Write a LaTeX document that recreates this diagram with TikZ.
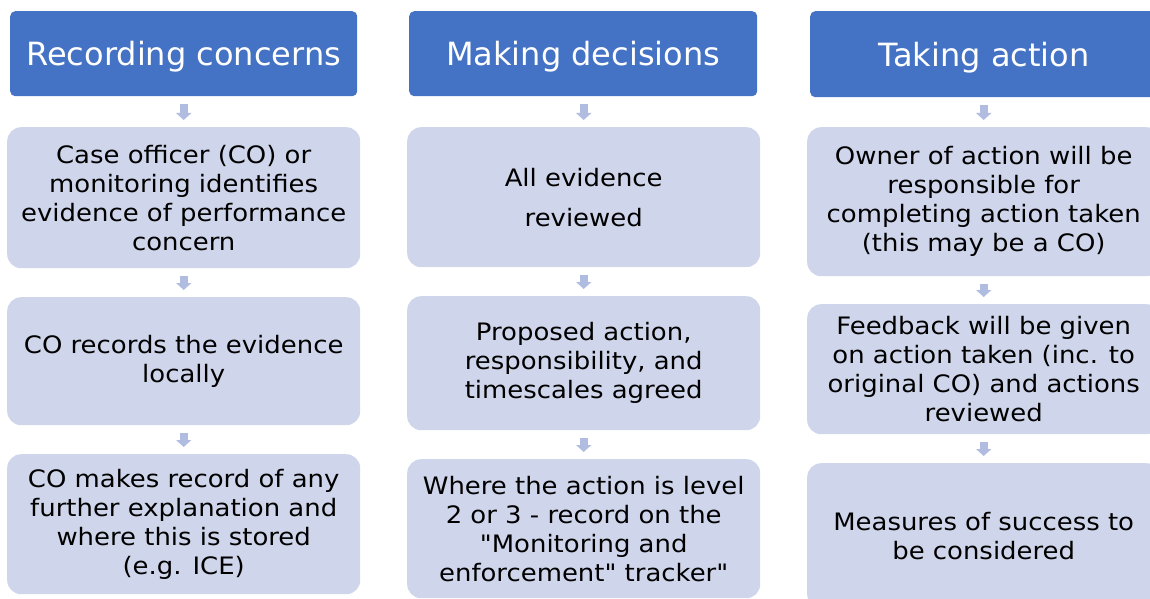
\documentclass[tikz,border=0pt]{standalone}
\usepackage{fontspec}
\setmainfont{DejaVu Sans}
\newfontfamily\bodyfont{DejaVu Sans}[FakeStretch=1.08]
\usetikzlibrary{arrows.meta}
\definecolor{hdrblue}{HTML}{4472C4}
\definecolor{boxfill}{HTML}{CFD5EA}
\definecolor{arrfill}{HTML}{B0BDE0}
\newcommand{\hdrtext}[1]{\raisebox{-12pt}[0pt][0pt]{#1}}
\tikzset{
  hdr/.style={anchor=north west, fill=hdrblue, rounded corners=5pt, text=white,
    font=\fontsize{32}{38}\selectfont, align=center, inner sep=0pt,
    minimum width=347pt, minimum height=85pt},
  stepbox/.style={anchor=north west, fill=boxfill, rounded corners=14pt, text=black,
    font=\bodyfont\fontsize{24}{29}\selectfont, align=center, inner sep=0pt,
    minimum width=353pt},
  flow/.style={draw=arrfill, line width=8pt, line cap=butt,
    -{Triangle[width=15pt,length=7pt]}, shorten <=8pt, shorten >=7pt}
}
\begin{document}
\begin{tikzpicture}[x=1pt,y=-1pt]
\useasboundingbox (0,0) rectangle (1150,599);
\clip (0,0) rectangle (1150,599);
% column 1
\node[hdr] (h1) at (10,11) {\hdrtext{Recording concerns}};
\node[stepbox, minimum height=141pt] (a1) at (7,127) {Case officer (CO) or\\monitoring identifies\\evidence of performance\\concern};
\node[stepbox, minimum height=128pt] (a2) at (7,297) {CO records the evidence\\locally};
\node[stepbox, minimum height=140pt] (a3) at (7,454) {CO makes record of any\\further explanation and\\where this is stored\\(e.g. ICE)};
% column 2
\node[hdr, minimum width=348pt] (h2) at (409,11) {\hdrtext{Making decisions}};
\node[stepbox, minimum height=140pt] (b1) at (407,127) {All evidence\\[11pt]reviewed};
\node[stepbox, minimum height=134pt] (b2) at (407,296) {Proposed action,\\responsibility, and\\timescales agreed};
\node[stepbox, minimum height=139pt] (b3) at (407,459) {Where the action is level\\2 or 3 - record on the\\\symbol{34}Monitoring and\\enforcement\symbol{34} tracker\symbol{34}};
% column 3
\node[hdr, minimum width=348pt, minimum height=86pt] (h3) at (810,11) {\hdrtext{Taking action}};
\node[stepbox, minimum height=149pt] (c1) at (807,127) {Owner of action will be\\responsible for\\completing action taken\\(this may be a CO)};
\node[stepbox, minimum height=130pt] (c2) at (807,304) {Feedback will be given\\on action taken (inc. to\\original CO) and actions\\reviewed};
\node[stepbox, minimum height=145pt] (c3) at (807,463) {Measures of success to\\be considered};
% arrows
\draw[flow] (h1) -- (a1);
\draw[flow] (a1) -- (a2);
\draw[flow] (a2) -- (a3);
\draw[flow] (h2.south -| b1.north) -- (b1);
\draw[flow] (b1) -- (b2);
\draw[flow] (b2) -- (b3);
\draw[flow] (h3.south -| c1.north) -- (c1);
\draw[flow] (c1) -- (c2);
\draw[flow] (c2) -- (c3);
\end{tikzpicture}
\end{document}
